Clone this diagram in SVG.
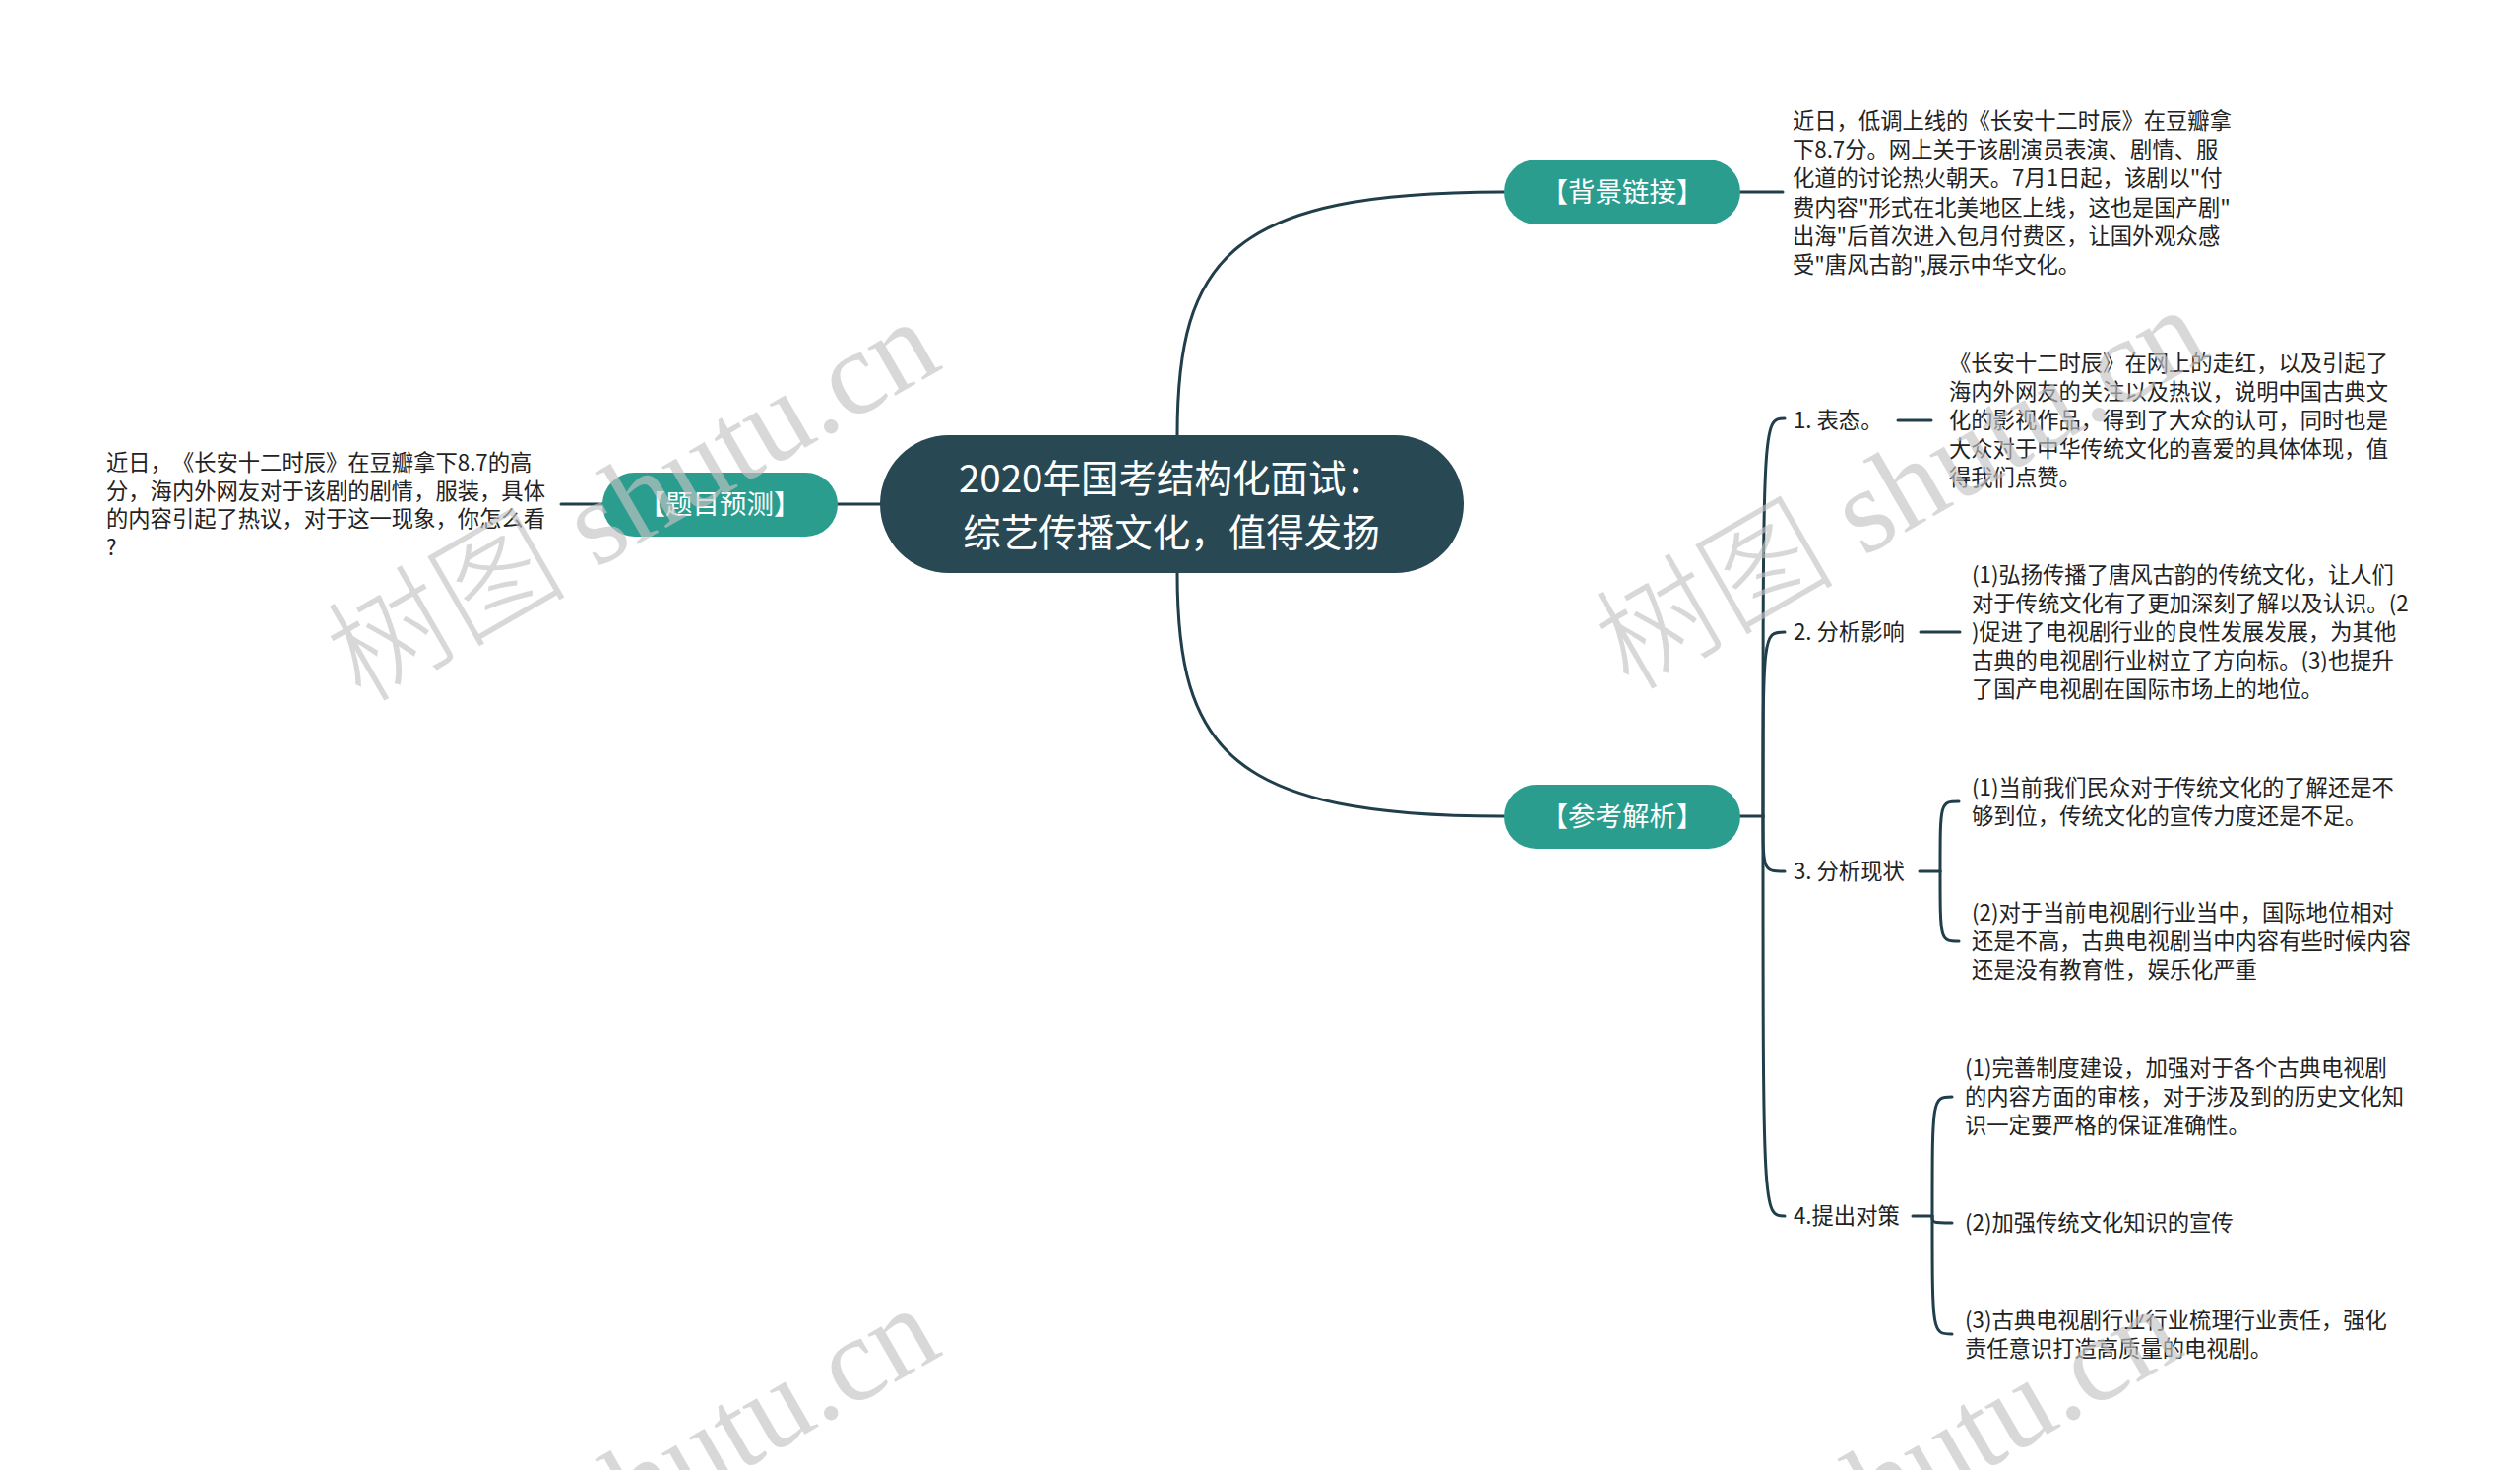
<svg xmlns="http://www.w3.org/2000/svg" width="2560" height="1493" viewBox="0 0 2560 1493">
<defs>
<style>
.bg{fill:#ffffff}
.line{fill:none;stroke:#203f4a;stroke-width:3;stroke-linecap:round}
.root{fill:#284854}
.branch{fill:#2a9d8f}
text{text-spacing-trim:space-all}
.rt{fill:#ffffff;font-family:"Noto Sans CJK SC","Noto Sans",sans-serif;font-size:38.5px}
.bt{fill:#ffffff;font-family:"Noto Sans CJK SC","Noto Sans",sans-serif;font-size:27.5px}
.tx{fill:#222222;font-family:"Noto Sans CJK SC","Noto Sans",sans-serif;font-size:22.3px}
.wm{fill:#c4c4c4;opacity:0.65;font-size:122px}
.wmc{font-family:"Noto Sans CJK SC",sans-serif;font-weight:300}
.wml{font-family:"Liberation Serif",serif}
</style>
</defs>
<rect class="bg" x="0" y="0" width="2560" height="1493"/>

<g id="connectors">
<path class="line" d="M1196 442 C1196 262 1250 195 1528 195"/>
<path class="line" d="M1196 582 C1196 762 1250 829 1528 829"/>
<path class="line" d="M851 512 H894"/>
<path class="line" d="M570 512 H612"/>
<path class="line" d="M1768 195 H1811"/>
<path class="line" d="M1768 829 H1791"/>
<path class="line" d="M1791 829 C1791 425 1791 425 1813 425"/>
<path class="line" d="M1791 829 C1791 642 1791 642 1813 642"/>
<path class="line" d="M1791 829 C1791 885 1791 885 1813 885"/>
<path class="line" d="M1791 829 C1791 1235 1791 1235 1813 1235"/>
<path class="line" d="M1928 427 H1962"/>
<path class="line" d="M1951 642 H1991"/>
<path class="line" d="M1950 885 H1971"/>
<path class="line" d="M1971 885 C1971 814 1971 814 1990 814"/>
<path class="line" d="M1971 885 C1971 956 1971 956 1990 956"/>
<path class="line" d="M1943 1235 H1963"/>
<path class="line" d="M1963 1235 C1963 1114 1963 1114 1983 1114"/>
<path class="line" d="M1963 1235 C1963 1242 1963 1242 1983 1242"/>
<path class="line" d="M1963 1235 C1963 1355 1963 1355 1983 1355"/>
</g>

<g id="root">
<rect class="root" x="894" y="442" width="593" height="140" rx="70" ry="70"/>
<text class="rt" text-anchor="middle"><tspan x="1190" y="500">2020年国考结构化面试：</tspan><tspan x="1190" y="555">综艺传播文化，值得发扬</tspan></text>
</g>

<g id="node-beijing">
<rect class="branch" x="1528" y="162" width="240" height="66" rx="33" ry="33"/>
<text class="bt" x="1648" y="205" text-anchor="middle">【背景链接】</text>
</g>

<g id="node-beijing-text">
<text class="tx"><tspan x="1821" y="131">近日，低调上线的《长安十二时辰》在豆瓣拿</tspan><tspan x="1821" y="160">下8.7分。网上关于该剧演员表演、剧情、服</tspan><tspan x="1821" y="189">化道的讨论热火朝天。7月1日起，该剧以"付</tspan><tspan x="1821" y="219">费内容"形式在北美地区上线，这也是国产剧"</tspan><tspan x="1821" y="248">出海"后首次进入包月付费区，让国外观众感</tspan><tspan x="1821" y="277">受"唐风古韵",展示中华文化。</tspan></text>
</g>

<g id="node-timu">
<rect class="branch" x="612" y="480" width="239" height="65" rx="32.5" ry="32.5"/>
<text class="bt" x="731" y="522" text-anchor="middle">【题目预测】</text>
</g>

<g id="node-timu-text">
<text class="tx"><tspan x="108" y="478">近日，《长安十二时辰》在豆瓣拿下8.7的高</tspan><tspan x="108" y="507">分，海内外网友对于该剧的剧情，服装，具体</tspan><tspan x="108" y="535">的内容引起了热议，对于这一现象，你怎么看</tspan><tspan x="108" y="564">?</tspan></text>
</g>

<g id="node-cankao">
<rect class="branch" x="1528" y="797" width="240" height="65" rx="32.5" ry="32.5"/>
<text class="bt" x="1648" y="839" text-anchor="middle">【参考解析】</text>
</g>

<g id="node-biaotai">
<text class="tx" x="1822" y="435">1. 表态。</text>
</g>
<g id="node-biaotai-text">
<text class="tx"><tspan x="1980" y="377">《长安十二时辰》在网上的走红，以及引起了</tspan><tspan x="1980" y="406">海内外网友的关注以及热议，说明中国古典文</tspan><tspan x="1980" y="435">化的影视作品，得到了大众的认可，同时也是</tspan><tspan x="1980" y="464">大众对于中华传统文化的喜爱的具体体现，值</tspan><tspan x="1980" y="493">得我们点赞。</tspan></text>
</g>

<g id="node-yingxiang">
<text class="tx" x="1822" y="650">2. 分析影响</text>
</g>
<g id="node-yingxiang-text">
<text class="tx"><tspan x="2003" y="592">(1)弘扬传播了唐风古韵的传统文化，让人们</tspan><tspan x="2003" y="621">对于传统文化有了更加深刻了解以及认识。(2</tspan><tspan x="2003" y="650">)促进了电视剧行业的良性发展发展，为其他</tspan><tspan x="2003" y="679">古典的电视剧行业树立了方向标。(3)也提升</tspan><tspan x="2003" y="708">了国产电视剧在国际市场上的地位。</tspan></text>
</g>

<g id="node-xianzhuang">
<text class="tx" x="1822" y="893">3. 分析现状</text>
</g>
<g id="node-xianzhuang-1">
<text class="tx"><tspan x="2003" y="808">(1)当前我们民众对于传统文化的了解还是不</tspan><tspan x="2003" y="837">够到位，传统文化的宣传力度还是不足。</tspan></text>
</g>
<g id="node-xianzhuang-2">
<text class="tx"><tspan x="2003" y="935">(2)对于当前电视剧行业当中，国际地位相对</tspan><tspan x="2003" y="964">还是不高，古典电视剧当中内容有些时候内容</tspan><tspan x="2003" y="993">还是没有教育性，娱乐化严重</tspan></text>
</g>

<g id="node-duice">
<text class="tx" x="1822" y="1243">4.提出对策</text>
</g>
<g id="node-duice-1">
<text class="tx"><tspan x="1996" y="1093">(1)完善制度建设，加强对于各个古典电视剧</tspan><tspan x="1996" y="1122">的内容方面的审核，对于涉及到的历史文化知</tspan><tspan x="1996" y="1151">识一定要严格的保证准确性。</tspan></text>
</g>
<g id="node-duice-2">
<text class="tx" x="1996" y="1250">(2)加强传统文化知识的宣传</text>
</g>
<g id="node-duice-3">
<text class="tx"><tspan x="1996" y="1349">(3)古典电视剧行业行业梳理行业责任，强化</tspan><tspan x="1996" y="1378">责任意识打造高质量的电视剧。</tspan></text>
</g>

<g id="watermarks">
<text class="wm" transform="translate(367 715) rotate(-30)"><tspan class="wmc">树图</tspan><tspan class="wml"> shutu.cn</tspan></text>
<text class="wm" transform="translate(1655 703) rotate(-30)"><tspan class="wmc">树图</tspan><tspan class="wml"> shutu.cn</tspan></text>
<text class="wm" transform="translate(367 1717) rotate(-30)"><tspan class="wmc">树图</tspan><tspan class="wml"> shutu.cn</tspan></text>
<text class="wm" transform="translate(1629 1717) rotate(-30)"><tspan class="wmc">树图</tspan><tspan class="wml"> shutu.cn</tspan></text>
</g>
</svg>
